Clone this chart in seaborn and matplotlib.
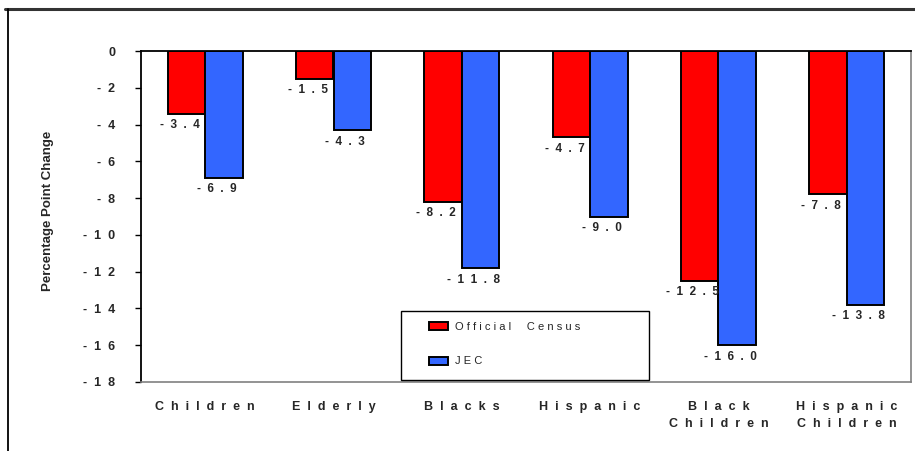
import matplotlib
matplotlib.use("Agg")
import matplotlib.pyplot as plt
from matplotlib.lines import Line2D
from matplotlib.patches import Patch, Rectangle
import seaborn as sns
import pandas as pd

# Change in poverty rate, percentage points
categories = ["Children", "Elderly", "Blacks", "Hispanic", "Black\nChildren", "Hispanic\nChildren"]
official_census = [-3.4, -1.5, -8.2, -4.7, -12.5, -7.8]
jec = [-6.9, -4.3, -11.8, -9.0, -16.0, -13.8]
series_names = ["Official Census", "JEC"]
y_ticks = [0, -2, -4, -6, -8, -10, -12, -14, -16, -18]
colors = ["#FF0000", "#3366FF"]

sns.set_theme(style="white")
plt.rcParams["font.family"] = ["Liberation Sans", "DejaVu Sans"]

W, H = 915, 451


def spaced(text, gap="  "):
    """Spread out the letters of each line, in the old spreadsheet style."""
    return "\n".join(gap.join(line) for line in text.split("\n"))


def fx(px):
    return px / W


def fy(py):
    return 1 - py / H


df = pd.DataFrame({
    "category": categories * 2,
    "value": official_census + jec,
    "series": [series_names[0]] * len(categories) + [series_names[1]] * len(categories),
})

fig = plt.figure(figsize=(W / 100, H / 100), dpi=100)
ax = fig.add_axes([fx(141), fy(382), fx(770), 331 / H])

sns.barplot(
    data=df, x="category", y="value", hue="series",
    order=categories, hue_order=series_names, palette=colors,
    width=0.586, edgecolor="black", linewidth=1.4, saturation=1,
    errorbar=None, legend=False, ax=ax,
)

ax.set_ylim(-18, 0)
ax.set_yticks(y_ticks)
ax.set_yticklabels([spaced(str(t)) for t in y_ticks], fontsize=9, fontweight="bold")
ax.set_xticks(range(len(categories)))
ax.set_xticklabels([spaced(c) for c in categories], fontsize=9, fontweight="bold",
                   linespacing=1.5, va="top")
ax.tick_params(axis="y", which="major", left=True, length=4.5, width=1,
               color="black", pad=14)
ax.tick_params(axis="x", bottom=False, pad=8)
ax.set_xlabel("")
ax.set_ylabel("Percentage Point Change", fontsize=9.5, fontweight="bold")
ax.yaxis.set_label_coords((48 - 141) / 770, (382 - 211) / 331)
ax.yaxis.label.set_verticalalignment("center")

for side in ["left", "top"]:
    ax.spines[side].set_color("black")
    ax.spines[side].set_linewidth(1.3)
for side in ["right", "bottom"]:
    ax.spines[side].set_color("#808080")
    ax.spines[side].set_linewidth(1.2)

# Value labels under the end of each bar
for container, vals in zip(ax.containers, [official_census, jec]):
    for bar, v in zip(container, vals):
        ax.annotate(spaced(f"{v:.1f}"),
                    xy=(bar.get_x() + bar.get_width() / 2, v),
                    xytext=(-5, -4), textcoords="offset points",
                    ha="center", va="top", fontsize=8.5, fontweight="bold")

# Legend: boxed, with the entries set in from the left border
fig.add_artist(Rectangle((fx(401), fy(380)), fx(248), 69 / H, transform=fig.transFigure,
                         facecolor="white", edgecolor="black", linewidth=1.0, zorder=5))
handles = [Patch(facecolor=c, edgecolor="black", linewidth=1.4) for c in colors]
leg = fig.legend(handles, [spaced(n.replace(" ", "  "), " ") for n in series_names],
                 loc="upper left", bbox_to_anchor=(fx(429), fy(322)),
                 frameon=False, fontsize=8, handlelength=1.7,
                 handleheight=0.75, handletextpad=0.6, labelspacing=2.2,
                 borderpad=0, borderaxespad=0)
leg.set_zorder(6)

# Outer chart frame
fig.add_artist(Line2D([fx(5), 1], [fy(9), fy(9)], color="#333333",
                      linewidth=2.2, transform=fig.transFigure))
fig.add_artist(Line2D([fx(8), fx(8)], [0, fy(9)], color="black",
                      linewidth=1.3, transform=fig.transFigure))

fig.savefig("out.png", dpi=100)
